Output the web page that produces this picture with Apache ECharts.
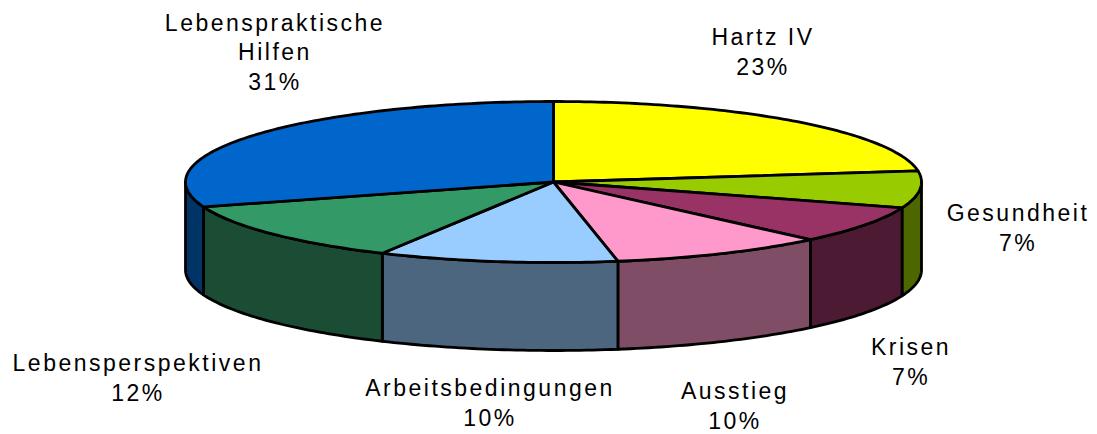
<!DOCTYPE html>
<html>
<head>
<meta charset="utf-8">
<title>Pie</title>
<style>
  html, body { margin: 0; padding: 0; background: #fff; }
  #main { width: 1097px; height: 434px; }
  /* die Beschriftung im Original ist weit gesperrt */
  #main text { letter-spacing: 2.5px; }
</style>
<script src="https://cdn.jsdelivr.net/npm/echarts@6/dist/echarts.min.js"></script>
</head>
<body>
<div id="main"></div>
<script>
// Daten
var categories = ["Hartz IV", "Gesundheit", "Krisen", "Ausstieg", "Arbeitsbedingungen", "Lebensperspektiven", "Lebenspraktische\nHilfen"];
var shares = [22.8, 7.4, 7.5, 9.5, 10.5, 12.3, 30];
// Prozentwerte wie sie an den Segmenten stehen
var percentLabels = ["23%", "7%", "7%", "10%", "10%", "12%", "31%"];
var topColors = ["#ffff00", "#99cc00", "#993366", "#ff99cc", "#99ccff", "#339966", "#0066cc"];
var sideColors = ["#808000", "#4d6600", "#4d1a33", "#804d66", "#4d6680", "#1a4d33", "#003366"];

// Layout
var cx = 553.5, cy = 182, rx = 368, ry = 80.5, depth = 88;
var labelCenters = [[763, 52], [1018, 228], [911, 362], [735, 406], [490, 403], [138, 378], [275, 52]];

var total = shares.reduce(function (a, b) { return a + b; }, 0);

// Punkt auf der Ellipse, Winkel im Uhrzeigersinn von oben
function rim(deg, dy) {
  var r = deg * Math.PI / 180;
  return [cx + rx * Math.sin(r), cy - ry * Math.cos(r) + dy];
}

function arc(a0, a1, dy) {
  var pts = [];
  var n = Math.max(2, Math.ceil(Math.abs(a1 - a0)));
  for (var i = 0; i <= n; i++) {
    pts.push(rim(a0 + (a1 - a0) * i / n, dy));
  }
  return pts;
}

function renderSlice(params, api) {
  var i = params.dataIndex;
  var before = shares.slice(0, i).reduce(function (a, b) { return a + b; }, 0);
  var a0 = before / total * 360;
  var a1 = a0 + api.value(1) / total * 360;
  var children = [];

  // Seitenwand nur im vorderen Bereich sichtbar
  var s0 = Math.max(a0, 90), s1 = Math.min(a1, 270);
  if (s1 > s0) {
    children.push({
      type: "polygon",
      shape: { points: arc(s0, s1, 0).concat(arc(s1, s0, depth)) },
      style: { fill: sideColors[i], stroke: "#000", lineWidth: 2.8, lineJoin: "round" }
    });
  }
  // Deckel
  children.push({
    type: "polygon",
    shape: { points: [[cx, cy]].concat(arc(a0, a1, 0)) },
    style: { fill: topColors[i], stroke: "#000", lineWidth: 2.8, lineJoin: "round" }
  });
  // Beschriftung
  children.push({
    type: "text",
    x: labelCenters[i][0],
    y: labelCenters[i][1],
    style: {
      text: categories[i] + "\n" + percentLabels[i],
      fill: "#000",
      font: "23px 'Liberation Sans', Arial, sans-serif",
      lineHeight: 29.5,
      align: "center",
      verticalAlign: "middle"
    }
  });
  return { type: "group", children: children };
}

var myChart = echarts.init(document.getElementById("main"), null, { renderer: "svg" });
var option = {
  backgroundColor: "#fff",
  animation: false,
  series: [
    {
      type: "custom",
      coordinateSystem: "none",
      renderItem: renderSlice,
      silent: true,
      clip: false,
      data: shares.map(function (v, i) { return [i, v]; })
    }
  ]
};
myChart.setOption(option);
</script>
</body>
</html>
